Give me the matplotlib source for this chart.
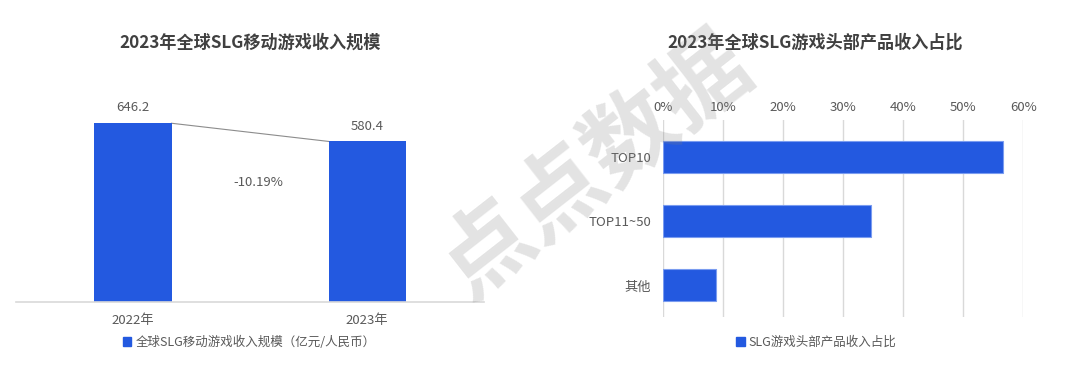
import matplotlib
matplotlib.use("Agg")
import matplotlib.pyplot as plt
from matplotlib.patches import Patch

plt.rcParams['font.family'] = ['Noto Sans CJK SC', 'DejaVu Sans']

# 数据
years = ['2022年', '2023年']
revenue = [646.2, 580.4]
growth_label = '-10.19%'

groups = ['TOP10', 'TOP11~50', '其他']
share = [56.6, 34.6, 8.8]
share_ticks = [0, 10, 20, 30, 40, 50, 60]

bar_color = '#2359e0'
text_color = '#595959'
title_color = '#404040'

fig = plt.figure(figsize=(10.8, 3.66), dpi=100)

# 左图：收入规模
ax1 = fig.add_axes([0.0145, 0.1757, 0.434, 0.6036])
xx = range(len(years))
bars1 = ax1.bar(xx, revenue, width=0.33, color=bar_color, zorder=2)
ax1.set_xlim(-0.5, 1.5)
ax1.set_ylim(0, 800)
for s in ['top', 'right', 'left']:
    ax1.spines[s].set_visible(False)
ax1.spines['bottom'].set_color('#d9d9d9')
ax1.spines['bottom'].set_linewidth(1.2)
ax1.set_yticks([])
ax1.set_xticks(list(xx))
ax1.set_xticklabels(years)
ax1.tick_params(axis='x', length=0, pad=9, labelsize=9.5, labelcolor=text_color)
for i, v in enumerate(revenue):
    ax1.annotate(f'{v:.1f}', (i, v), xytext=(0, 11), textcoords='offset points',
                 ha='center', va='center', fontsize=9.5, color=text_color)
# 连接线
ax1.plot([0 + 0.165, 1 - 0.165], [revenue[0], revenue[1]], color='#8c8c8c', lw=0.8, zorder=1)
ax1.annotate(growth_label, (0.5, (revenue[0] + revenue[1]) / 2), xytext=(6, -36),
             textcoords='offset points', ha='center', va='center', fontsize=9.5, color=text_color)

fig.text(250 / 1080, 1 - 43 / 366, '2023年全球SLG移动游戏收入规模', ha='center', va='center',
         fontsize=12.3, fontweight='bold', color=title_color)
fig.legend(handles=[Patch(color=bar_color)], labels=['全球SLG移动游戏收入规模（亿元/人民币）'],
           loc='center', bbox_to_anchor=(249 / 1080, 1 - 342 / 366), frameon=False,
           handlelength=0.7, handleheight=0.7, handletextpad=0.3, fontsize=9, labelcolor=text_color)

# 右图：头部产品收入占比
ax2 = fig.add_axes([0.6142, 0.1347, 0.3333, 0.5374])
yy = range(len(groups))
ax2.barh(yy, share, height=0.5, color=bar_color, edgecolor='#7a9cf0', linewidth=0.8, zorder=2)
ax2.set_xlim(0, 60)
ax2.set_ylim(2.49, -0.586)
for s in ['top', 'right', 'bottom', 'left']:
    ax2.spines[s].set_visible(False)
ax2.set_xticks(share_ticks)
ax2.set_xticklabels([f'{t}%' for t in share_ticks])
ax2.xaxis.tick_top()
ax2.grid(axis='x', color='#d9d9d9', lw=1, zorder=0)
ax2.set_yticks(list(yy))
ax2.set_yticklabels(groups)
ax2.tick_params(axis='x', length=0, pad=4.5, labelsize=9.5, labelcolor=text_color)
ax2.tick_params(axis='y', length=0, pad=9, labelsize=9.5, labelcolor=text_color)

fig.text(815 / 1080, 1 - 43 / 366, '2023年全球SLG游戏头部产品收入占比', ha='center', va='center',
         fontsize=12.3, fontweight='bold', color=title_color)
fig.legend(handles=[Patch(color=bar_color)], labels=['SLG游戏头部产品收入占比'],
           loc='center', bbox_to_anchor=(816 / 1080, 1 - 342 / 366), frameon=False,
           handlelength=0.7, handleheight=0.7, handletextpad=0.3, fontsize=9, labelcolor=text_color)

# 水印
fig.text(596 / 1080, 1 - 166 / 366, '点点数据', ha='center', va='center', rotation=38,
         fontsize=66, fontweight='bold', color='#808080', alpha=0.22, zorder=10)

fig.savefig('out.png', dpi=100, facecolor='white')
